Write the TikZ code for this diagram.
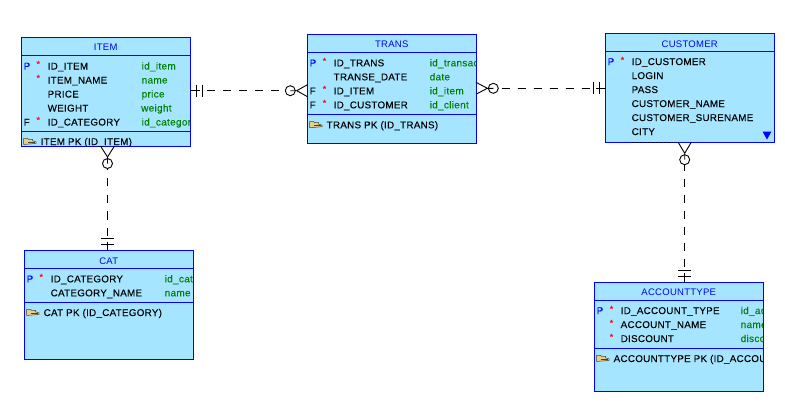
\documentclass[tikz,border=0pt]{standalone}
\usepackage{fontspec}
\setmainfont{Liberation Sans}
\newfontfamily\spacedfont[LetterSpace=3,FakeBold=0.06]{Liberation Sans}
\newfontfamily\titlespaced[LetterSpace=3]{Liberation Sans}
\newfontfamily\greenspaced[LetterSpace=3,FakeBold=0.03]{Liberation Sans}
\definecolor{boxfill}{HTML}{A6E5FF}
\definecolor{ttl}{HTML}{0000FF}
\definecolor{grn}{HTML}{008000}
\definecolor{keyfill}{HTML}{E4D08C}
\definecolor{keyline}{HTML}{4A4026}
\newcommand{\blackfont}{\spacedfont\fontsize{9.8}{12}\selectfont}
\newcommand{\greenfont}{\greenspaced\fontsize{10}{12}\selectfont}
\newcommand{\titlefont}{\titlespaced\fontsize{9.5}{12}\selectfont}
\tikzset{
  x=1pt,y=-1pt,
  entity/.style={draw=ttl,line width=1pt,fill=boxfill,rectangle,inner sep=0pt,outer sep=0pt,anchor=north west},
  sep/.style={draw=ttl,line width=1pt},
  txt/.style={inner sep=0pt,anchor=base west,text=black,font=\blackfont},
  flagtxt/.style={txt},
  gtxt/.style={inner sep=0pt,anchor=base west,text=grn,font=\greenfont},
  ttltxt/.style={inner sep=0pt,anchor=base,text=ttl,font=\titlefont},
  startxt/.style={inner sep=0pt,anchor=center,text=red,font=\fontsize{9}{9}\bfseries\selectfont},
  rel/.style={black,line width=0.9pt},
  reldash/.style={rel,dash pattern=on 8pt off 8pt},
  optional/.style={circle,draw=black,line width=0.9pt,minimum size=10pt,inner sep=0pt,outer sep=0pt},
}
% #1 box name, #2 left x, #3 top y, #4 right x, #5 bottom y, #6 header line y, #7 divider y, #8 title, #9 title baseline
\newcommand{\entitybox}[9]{%
  \node[entity,minimum width=#4pt-#2pt,minimum height=#5pt-#3pt] (#1) at (#2,#3) {};
  \draw[sep] (#2,#6) -- (#4,#6);
  \ifx&#7&\else\draw[sep] (#2,#7) -- (#4,#7);\fi
  \node[ttltxt] (#1-title) at ({(#2+#4)/2},#9) {#8};
}
% #1 node id, #2 left x of box, #3 baseline, #4 flag, #5 flag colour, #6 star?, #7 name, #8 green offset, #9 green
\newcommand{\colrow}[9]{%
  \ifx&#4&\else\node[flagtxt,text=#5] (#1-f) at (#2+2,#3) {#4};\fi
  \ifx&#6&\else\node[startxt] (#1-s) at (#2+17,#3-4.6) {*};\fi
  \node[txt] (#1-n) at (#2+26,#3) {#7};
  \ifx&#9&\else\node[gtxt] (#1-g) at (#2+#8,#3) {#9};\fi
}
% #1 id, #2 left x, #3 baseline, #4 text
\newcommand{\pkrow}[4]{%
  \begin{scope}[shift={(#2+2,#3-3.7)}]
    \path[fill=keyfill,draw=keyline,line width=0.5pt] (0,-3) -- (4,-3) -- (5,-2) -- (9,-2) -- (9,-0.5) -- (12.5,0.5) -- (12.5,2) -- (8,2.5) -- (2,3) -- (0,3) -- cycle;
    \path[draw=keyline,line width=0.9pt] (4,1) -- (11.5,1);
  \end{scope}
  \node[txt] (#1) at (#2+19,#3) {#4};
}
\begin{document}
\begin{tikzpicture}
\useasboundingbox (0,0) rectangle (785,402);
\fill[white] (0,0) rectangle (785,402);

% ITEM
\entitybox{item}{21.5}{37.5}{190}{146}{55.5}{131.5}{ITEM}{50.5}
\begin{scope}
\clip (21.5,37.5) rectangle (190,146);
\colrow{i1}{21.5}{69.5}{P}{ttl}{1}{ID\_ITEM}{120}{id\_item}
\colrow{i2}{21.5}{83.5}{}{}{1}{ITEM\_NAME}{120}{name}
\colrow{i3}{21.5}{97.5}{}{}{}{PRICE}{120}{price}
\colrow{i4}{21.5}{111.5}{}{}{}{WEIGHT}{119.5}{weight}
\colrow{i5}{21.5}{125.5}{F}{black}{1}{ID\_CATEGORY}{120}{id\_categor}
\pkrow{i6}{21.5}{145}{ITEM PK (ID\_ITEM)}
\end{scope}

% TRANS
\entitybox{trans}{307.5}{34.5}{476}{143.5}{52.5}{114.5}{TRANS}{47.7}
\begin{scope}
\clip (307.5,34.5) rectangle (476,143.5);
\colrow{t1}{307.5}{66.3}{P}{ttl}{1}{ID\_TRANS}{122}{id\_transac}
\colrow{t2}{307.5}{80.3}{}{}{}{TRANSE\_DATE}{122}{date}
\colrow{t3}{307.5}{94.3}{F}{black}{1}{ID\_ITEM}{122}{id\_item}
\colrow{t4}{307.5}{108.3}{F}{black}{1}{ID\_CUSTOMER}{122}{id\_client}
\pkrow{t5}{307.5}{128.3}{TRANS PK (ID\_TRANS)}
\end{scope}

% CUSTOMER
\entitybox{customer}{605.5}{33.5}{774}{142}{51.5}{}{CUSTOMER}{47}
\begin{scope}
\clip (605.5,33.5) rectangle (774,142);
\colrow{c1}{605.5}{65}{P}{ttl}{1}{ID\_CUSTOMER}{122}{}
\colrow{c2}{605.5}{79}{}{}{}{LOGIN}{122}{}
\colrow{c3}{605.5}{93}{}{}{}{PASS}{122}{}
\colrow{c4}{605.5}{107}{}{}{}{CUSTOMER\_NAME}{122}{}
\colrow{c5}{605.5}{121}{}{}{}{CUSTOMER\_SURENAME}{122}{}
\colrow{c6}{605.5}{135}{}{}{}{CITY}{122}{}
\end{scope}
\fill[ttl] (762.5,131.5) -- (771.5,131.5) -- (767,139.5) -- cycle;
\draw[black,line width=0.8pt,dash pattern=on 2.5pt off 1.5pt] (631.7,142.3) -- (672,142.3);

% CAT
\entitybox{cat}{24.5}{250.5}{193}{359.5}{268.5}{302.5}{CAT}{264}
\begin{scope}
\clip (24.5,250.5) rectangle (193,359.5);
\colrow{k1}{24.5}{282.3}{P}{ttl}{1}{ID\_CATEGORY}{140}{id\_cat}
\colrow{k2}{24.5}{296.3}{}{}{}{CATEGORY\_NAME}{140}{name}
\pkrow{k3}{24.5}{316}{CAT PK (ID\_CATEGORY)}
\end{scope}

% ACCOUNTTYPE
\entitybox{account}{594.5}{282.5}{763}{391.5}{300.5}{348.5}{ACCOUNTTYPE}{295.7}
\begin{scope}
\clip (594.5,282.5) rectangle (763,391.5);
\colrow{a1}{594.5}{314}{P}{ttl}{1}{ID\_ACCOUNT\_TYPE}{146}{id\_ac}
\colrow{a2}{594.5}{328}{}{}{1}{ACCOUNT\_NAME}{146}{name}
\colrow{a3}{594.5}{342}{}{}{1}{DISCOUNT}{146}{disco}
\pkrow{a4}{594.5}{362}{ACCOUNTTYPE PK (ID\_ACCOU}
\end{scope}

% --- ITEM (crow) to CAT (bars)
\node[optional] (o1) at (107.5,163.5) {};
\coordinate (b1) at (107.5,238.7);
\coordinate (s1) at (107.5,241.7);
\draw[rel] (o1.center) -- (107.5,157) (100.5,146) -- (107.5,157) -- (114.5,146);
\draw[rel,dash pattern=on 8.3pt off 8.3pt,dash phase=7.1pt] (o1.south) -- (b1);
\draw[rel] (s1) -- (cat.north -| s1);
\draw[rel] (101.3,238.7) -- (113.7,238.7) (101.3,244.7) -- (113.7,244.7);

% --- ITEM (bars) to TRANS (crow)
\node[optional] (o2) at (290.3,90.7) {};
\coordinate (b2) at (202.3,90.7);
\coordinate (s2) at (199.8,90.7);
\draw[rel] (item.east |- s2) -- (s2);
\draw[rel] (196.3,84.7) -- (196.3,96.7) (202.3,84.7) -- (202.3,96.7);
\draw[reldash,dash phase=11.3pt] (b2) -- (o2.west);
\draw[rel] (o2.center) -- (296.7,90.7) (307.5,84.7) -- (296.7,90.7) -- (307.5,96.7);

% --- TRANS (crow) to CUSTOMER (bars)
\node[optional] (o3) at (493.3,88.3) {};
\coordinate (b3) at (593.3,88.3);
\coordinate (s3) at (596.3,88.3);
\draw[rel] (o3.center) -- (487.3,88.3) (476,82.3) -- (487.3,88.3) -- (476,94.3);
\draw[reldash,dash phase=12.6pt] (o3.east) -- (b3);
\draw[rel] (s3) -- (customer.west |- s3);
\draw[rel] (593.3,82.3) -- (593.3,94.3) (599.3,82.3) -- (599.3,94.3);

% --- CUSTOMER (crow) to ACCOUNTTYPE (bars)
\node[optional] (o4) at (684.7,159.7) {};
\coordinate (b4) at (684.7,270.3);
\coordinate (s4) at (684.7,273.3);
\draw[rel] (o4.center) -- (684.7,153.3) (678,142) -- (684.7,153.3) -- (691.4,142);
\draw[reldash,dash phase=2pt] (o4.south) -- (b4);
\draw[rel] (s4) -- (account.north -| s4);
\draw[rel] (678.3,270.3) -- (690.7,270.3) (678.3,276.3) -- (690.7,276.3);
\end{tikzpicture}
\end{document}
